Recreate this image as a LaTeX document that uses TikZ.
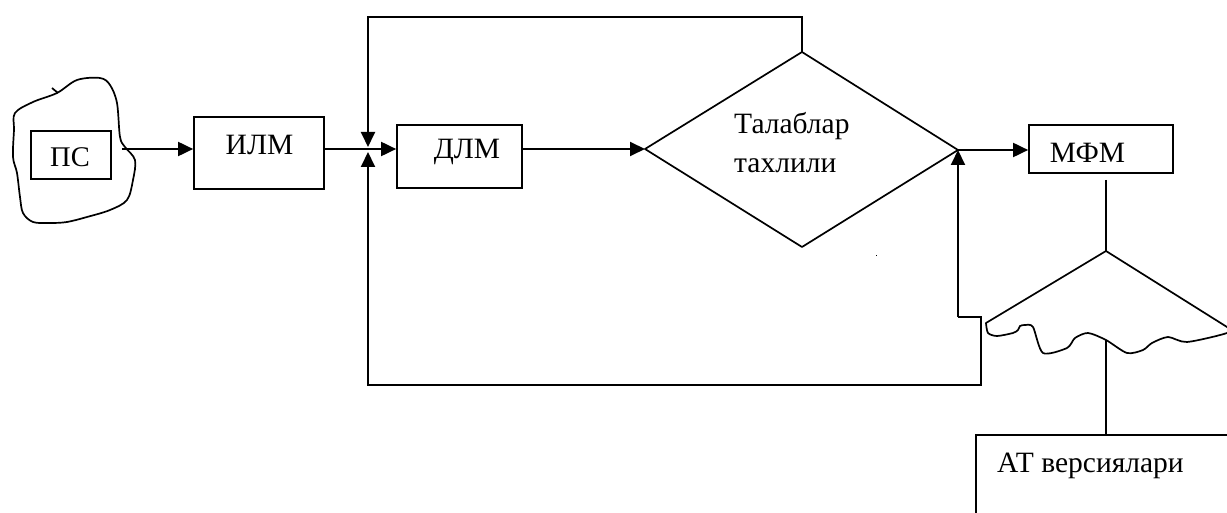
\documentclass[tikz,border=0pt]{standalone}
\usepackage{fontspec}
\setmainfont{Liberation Serif}
\usetikzlibrary{arrows.meta}
\begin{document}
\begin{tikzpicture}[x=1pt,y=-1pt,
  blk/.style={draw,line width=1.7pt,inner sep=0pt},
  outline/.style={line width=1.7pt,line join=round},
  lbl/.style={font=\fontsize{29.5}{32}\selectfont,inner sep=0pt},
  wire/.style={line width=1.9pt},
  arr/.style={wire,-{Triangle[length=15pt,width=14pt]}},
]
\useasboundingbox (0,0) rectangle (1227,513);

% source block inside a hand-drawn cloud
\draw[outline] plot[smooth cycle,tension=0.55] coordinates {
  (15,113) (33,102) (57,93) (77,80) (100,78) (110,85) (117,103) (120,137)
  (125,147) (135,160) (133,180) (127,200) (110,210) (87,217) (67,222)
  (50,223) (33,222) (23,213) (20,197) (17,173) (13,157) (14,130)};
\draw[outline] (52,88) -- (58,93);
\node[blk,minimum width=80pt,minimum height=48pt] (ps) at (71,155) {};
\node[lbl,font=\fontsize{28.5}{31}\selectfont,anchor=base] (pstxt) at (70,167) {ПС};

% main blocks
\node[blk,minimum width=130pt,minimum height=72pt] (ilm) at (259,153) {};
\node[lbl,anchor=base] (ilmtxt) at (259.5,155) {ИЛМ};
\node[blk,minimum width=125pt,minimum height=63pt] (dlm) at (459.5,156.5) {};
\node[lbl,anchor=base] (dlmtxt) at (467,159) {ДЛМ};
\node[blk,minimum width=144pt,minimum height=48pt] (mfm) at (1101,149) {};
\node[lbl,anchor=base] (mfmtxt) at (1087.5,163) {МФМ};

% decision diamond
\coordinate (dl) at (645,149);
\coordinate (dt) at (802,52);
\coordinate (dr) at (958,150);
\coordinate (db) at (802,247);
\draw[outline] (dl) -- (dt) -- (dr) -- (db) -- cycle;
\node[lbl,anchor=base west] (req1) at (734,134) {Талаблар};
\node[lbl,anchor=base west] (req2) at (734,173) {тахлили};
\fill (876,255) rectangle (877.3,256.3);

% junction in front of ДЛМ
\coordinate (cloudout) at (122,149);
\coordinate (jn) at (368,149);
\coordinate (jt) at (368,147);
\coordinate (jb) at (368,152);
\coordinate (fbtop) at (368,17);

% forward flow
\draw[arr] (cloudout) -- (ilm.west |- cloudout);
\draw[wire] (ilm.east |- jn) -- (jn);
\draw[arr] (jn) -- (dlm.west |- jn);
\draw[arr] (dlm.east |- dl) -- (dl);
\draw[arr] (dr) -- (mfm.west |- dr);

% feedback loops
\draw[arr] (dt) |- (fbtop) -- (jt);
\coordinate (stp) at (958,317);
\coordinate (stpr) at (981,317);
\coordinate (fbbot) at (368,385);
\draw[arr] (stp) -- (dr);
\draw[arr] (stp) -- (stpr) |- (fbbot) -- (jb);

% umbrella spreading to the versions block
\coordinate (mfmstem) at (1106,180);
\coordinate (apex) at (1106,251);
\draw[wire] (mfmstem) -- (apex);
\draw[outline] (apex) -- plot[smooth,tension=0.45] coordinates {
  (986,323) (988,333) (997,336) (1013,333) (1018,330) (1020,326) (1025,325)
  (1033,327) (1043,353) (1067,348) (1075,338) (1088,333) (1106,340)
  (1127,353) (1143,350) (1152,343) (1168,337) (1187,342) (1227,333) (1227,327)}
  -- cycle;
\coordinate (ustem) at (1106,340);
\coordinate (vtl) at (976,435);
\draw[blk] (1230,435) -- (vtl) -- (976,516);
\draw[wire] (ustem) -- (ustem |- vtl);
\node[lbl,anchor=base west] (ver) at (997,472) {АТ версиялари};
\end{tikzpicture}
\end{document}
